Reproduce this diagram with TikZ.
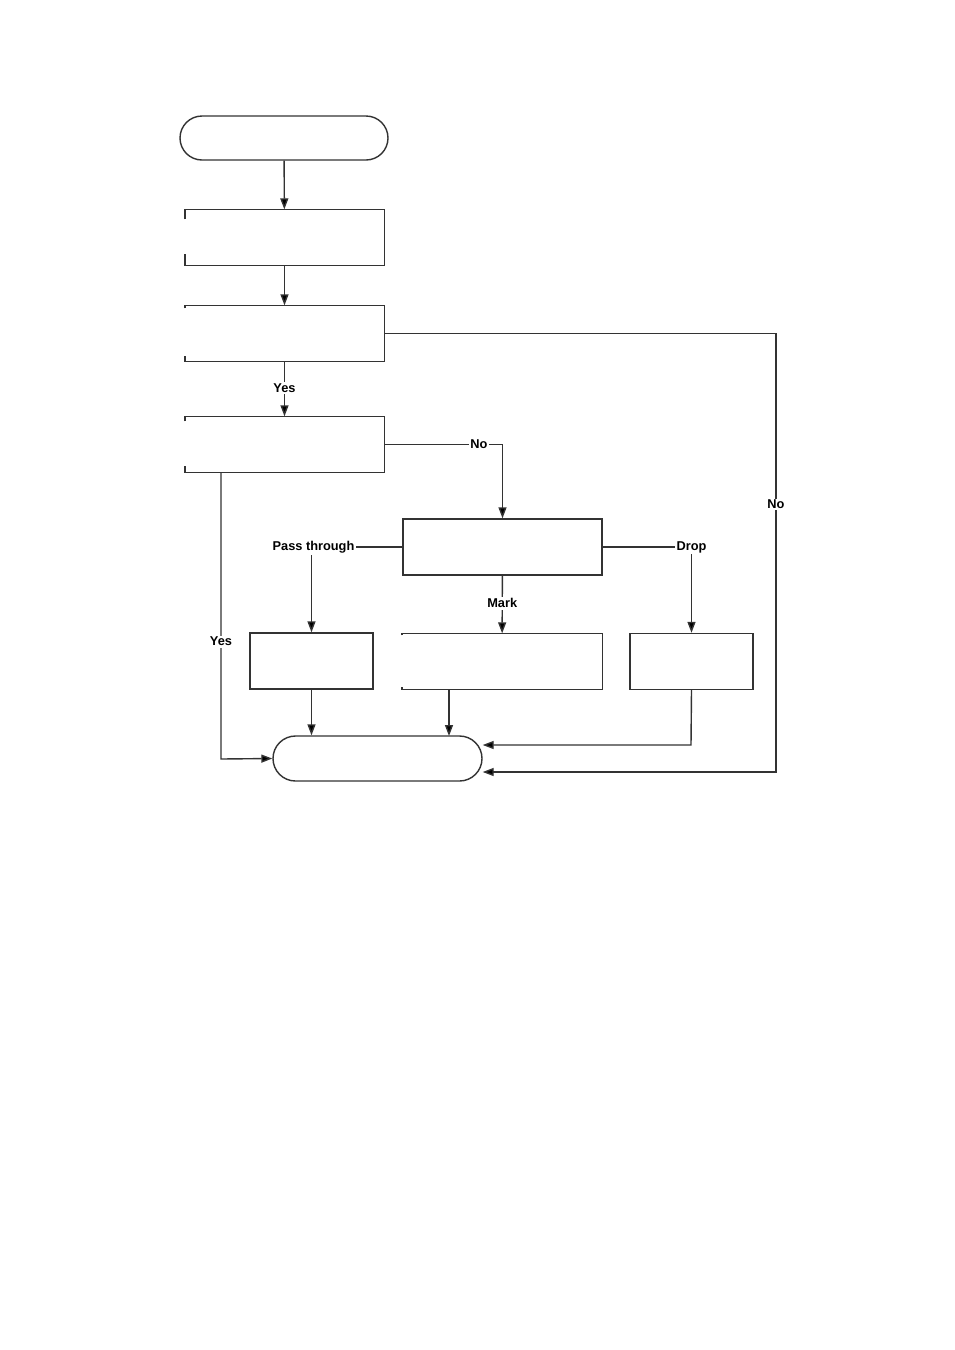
\documentclass[tikz,border=0pt]{standalone}
\usepackage{fontspec}
\setmainfont{Liberation Sans}
\usepackage{tikz}
\usetikzlibrary{arrows.meta,shapes.misc,calc}
\definecolor{cLine}{HTML}{333333}
\tikzset{
  term/.style={rounded rectangle, draw=cLine, line width=1.4pt, fill=white,
               minimum width=#1, minimum height=44pt, inner sep=0pt},
  proc/.style={rectangle, draw=cLine, line width=1.4pt, fill=white,
               minimum width=#1, minimum height=56pt, inner sep=0pt},
  procopen/.style={rectangle, minimum width=199pt, minimum height=56pt, inner sep=0pt},
  edge/.style={draw=cLine, line width=1.4pt},
  flow/.style={edge, -{Triangle[length=11pt, width=8pt, fill=black]}},
  lbl/.style={font=\bfseries\fontsize{12.8}{15}\selectfont, fill=white, inner sep=1.5pt},
}
\begin{document}
\begin{tikzpicture}[x=1pt, y=-1pt]
  \useasboundingbox[fill=white] (0,0) rectangle (954,1350);

  % boxes
  \node[term=208pt] (start) at (284,138) {};
  \node[procopen] (read) at (284.5,237.5) {};
  \node[procopen] (check) at (284.5,333.5) {};
  \node[procopen] (match) at (284.5,444.5) {};
  \node[proc=199pt] (act) at (502.5,547) {};
  \node[proc=123pt] (pass) at (311.5,661) {};
  \node[procopen, minimum width=200pt] (mark) at (502,661.5) {};
  \node[proc=123pt] (drop) at (691.5,661.5) {};
  \node[term=209pt, minimum height=45pt] (stop) at (377.5,758.5) {};

  % open boxes, left side only stubs
  \foreach \n/\t/\b in {read/10/12, check/3/6, match/5/7, mark/2/3}
    \draw[edge] ([yshift=-\t pt]\n.north west) -- (\n.north west) -- (\n.north east)
      -- (\n.south east) -- (\n.south west) -- ([yshift=\b pt]\n.south west);

  % connectors
  \draw[flow] (start) -- (read);
  \draw[flow] (read) -- (check);
  \draw[flow] (check) -- node[lbl, pos=0.48] {Yes} (match);
  \draw[flow] (check.east) -- (776,333.5) -- node[lbl, pos=0.39] {No} (776,772) -- (stop.east |- 0,772);
  \draw[flow] (match.east) -- node[lbl, pos=0.8] {No} (act.north |- match.east) -- (act.north);
  \draw[flow] (match.south -| 221,0) -- node[lbl, pos=0.59] {Yes} (221,759) -- (stop.west);
  \draw[flow] (act.west) -- (pass.north |- act.west) node[lbl, xshift=2pt] {Pass through} -- (pass.north);
  \draw[flow] (act) -- node[lbl, pos=0.48] {Mark} (mark);
  \draw[flow] (act.east) -- (drop.north |- act.east) node[lbl] {Drop} -- (drop.north);
  \draw[flow] (pass) -- (pass |- stop.north);
  \draw[flow] (mark.south -| 449,0) -- (449,736);
  \draw[flow] (drop.south) -- (691,745) -- (stop.east |- 0,745);
\end{tikzpicture}
\end{document}
